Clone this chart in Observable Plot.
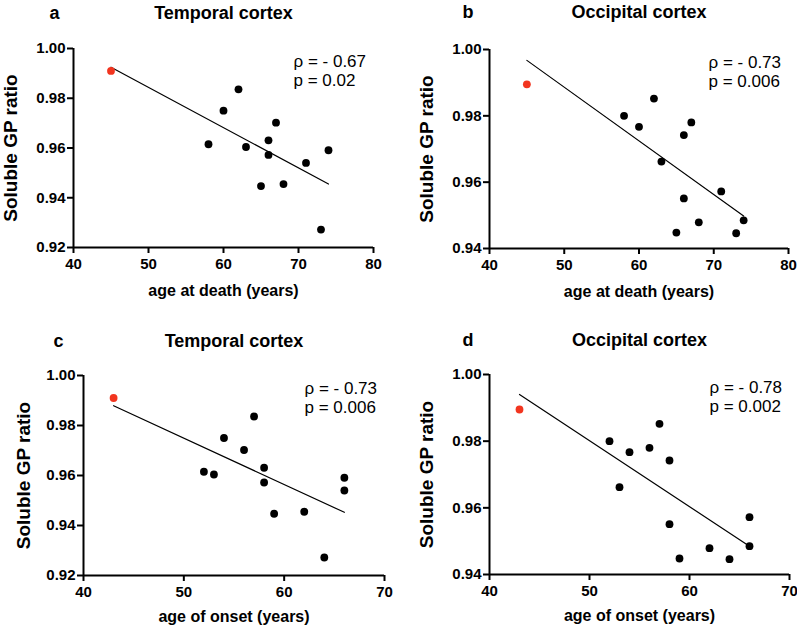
<!DOCTYPE html>
<html>
<head>
<meta charset="utf-8">
<script src="https://cdn.jsdelivr.net/npm/d3@7"></script>
<script src="https://cdn.jsdelivr.net/npm/@observablehq/plot@0.6"></script>
<style>
html, body { margin: 0; padding: 0; background: #fff; }
#root { position: relative; width: 797px; height: 629px; overflow: hidden; }
.panel { position: absolute; }
.panel svg { overflow: visible; display: block; }
</style>
</head>
<body>
<div id="root"></div>
<script>
// ---- data (one entry per patient; index 0 is the highlighted red case) ----
const deathAge    = [45, 58, 60, 62, 63, 65, 66, 66, 67, 68, 71, 73, 74];
const onsetAge    = [43, 52, 54, 57, 53, 59, 58, 58, 56, 62, 66, 64, 66];
const temporalGP  = [0.9910, 0.9615, 0.9750, 0.9836, 0.9604, 0.9447, 0.9631, 0.9572, 0.9702, 0.9455, 0.9540, 0.9272, 0.9591];
const occipitalGP = [0.9895, 0.9800, 0.9767, 0.9852, 0.9662, 0.9448, 0.9742, 0.9551, 0.9780, 0.9479, 0.9572, 0.9446, 0.9485];
const highlightIndex = 0;

const panelLetters = ["a", "b", "c", "d"];
const panelTitles  = ["Temporal cortex", "Occipital cortex", "Temporal cortex", "Occipital cortex"];
const xLabels      = ["age at death (years)", "age at death (years)", "age of onset (years)", "age of onset (years)"];
const yLabel       = "Soluble GP ratio";
const rhoValues    = ["- 0.67", "- 0.73", "- 0.73", "- 0.78"];
const pValues      = ["0.02", "0.006", "0.006", "0.002"];

const xTicksDeath      = [40, 50, 60, 70, 80];
const xTicksOnset      = [40, 50, 60, 70];
const yTicksTemporal   = [0.92, 0.94, 0.96, 0.98, 1.00];
const yTicksOccipital  = [0.94, 0.96, 0.98, 1.00];

const FONT = "'Liberation Sans', Arial, Helvetica, sans-serif";
const RED = "#f2351f";

// layout of the four panels (page position, size, margins, text offsets)
const layouts = [
  {left: 0,   top: 0,   w: 398, h: 305, ml: 73, mr: 25, mt: 48, mb: 58, titleDy: -30, letterDx: -24, yLabDx: -63, xLabDy: 37},
  {left: 400, top: 0,   w: 397, h: 305, ml: 89, mr: 9,  mt: 49, mb: 57, titleDy: -32, letterDx: -27, yLabDx: -63, xLabDy: 37},
  {left: 0,   top: 310, w: 398, h: 319, ml: 83, mr: 14, mt: 65, mb: 54, titleDy: -29, letterDx: -30, yLabDx: -60, xLabDy: 35},
  {left: 400, top: 310, w: 397, h: 319, ml: 89, mr: 8,  mt: 64, mb: 55, titleDy: -29, letterDx: -27, yLabDx: -63, xLabDy: 35}
];

function makePanel(i, xs, ys, xTicks, yTicks) {
  const L = layouts[i];
  const data = xs.map((x, k) => ({x, y: ys[k], hi: k === highlightIndex}));
  const xDom = [xTicks[0], xTicks[xTicks.length - 1]];
  const yDom = [yTicks[0], yTicks[yTicks.length - 1]];
  const chart = Plot.plot({
    width: L.w, height: L.h,
    marginLeft: L.ml, marginRight: L.mr, marginTop: L.mt, marginBottom: L.mb,
    x: {domain: xDom},
    y: {domain: yDom},
    style: {fontFamily: FONT, color: "#000", background: "transparent", overflow: "visible"},
    marks: [
      Plot.axisX({ticks: xTicks, tickSize: 6, tickPadding: 5, strokeWidth: 2, fontSize: 15, fontWeight: "bold", fontFamily: FONT, label: null}),
      Plot.axisY({ticks: yTicks, tickFormat: d3.format(".2f"), tickSize: 6, tickPadding: 2, strokeWidth: 2, fontSize: 15, fontWeight: "bold", fontFamily: FONT, label: null}),
      Plot.ruleX([xDom[0]], {strokeWidth: 2, stroke: "#000"}),
      Plot.ruleY([yDom[0]], {strokeWidth: 2, stroke: "#000"}),
      Plot.linearRegressionY(data, {x: "x", y: "y", ci: 0, stroke: "#000", strokeWidth: 1.2}),
      Plot.dot(data.filter(d => !d.hi), {x: "x", y: "y", r: 3.9, fill: "#000", stroke: null}),
      Plot.dot(data.filter(d => d.hi), {x: "x", y: "y", r: 3.9, fill: RED, stroke: null}),
      Plot.text([`ρ = ${rhoValues[i]}\np = ${pValues[i]}`], {frameAnchor: "top-right", textAnchor: "start", lineAnchor: "top", dx: -80, dy: 5, fontSize: 17, lineHeight: 1.12, fontFamily: FONT, fill: "#000"}),
      Plot.text([panelTitles[i]], {frameAnchor: "top", textAnchor: "middle", lineAnchor: "bottom", dy: L.titleDy, fontSize: 18, fontWeight: "bold", fontFamily: FONT, fill: "#000"}),
      Plot.text([panelLetters[i]], {frameAnchor: "top-left", textAnchor: "start", lineAnchor: "bottom", dx: L.letterDx, dy: L.titleDy, fontSize: 18, fontWeight: "bold", fontFamily: FONT, fill: "#000"}),
      Plot.text([yLabel], {frameAnchor: "left", textAnchor: "middle", lineAnchor: "middle", rotate: -90, dx: L.yLabDx, fontSize: 19, fontWeight: "bold", fontFamily: FONT, fill: "#000"}),
      Plot.text([xLabels[i]], {frameAnchor: "bottom", textAnchor: "middle", lineAnchor: "top", dy: L.xLabDy, fontSize: 16, fontWeight: "bold", fontFamily: FONT, fill: "#000"})
    ]
  });
  const div = document.createElement("div");
  div.className = "panel";
  div.style.left = L.left + "px";
  div.style.top = L.top + "px";
  div.appendChild(chart);
  document.getElementById("root").appendChild(div);
}

makePanel(0, deathAge, temporalGP, xTicksDeath, yTicksTemporal);
makePanel(1, deathAge, occipitalGP, xTicksDeath, yTicksOccipital);
makePanel(2, onsetAge, temporalGP, xTicksOnset, yTicksTemporal);
makePanel(3, onsetAge, occipitalGP, xTicksOnset, yTicksOccipital);
</script>
</body>
</html>
